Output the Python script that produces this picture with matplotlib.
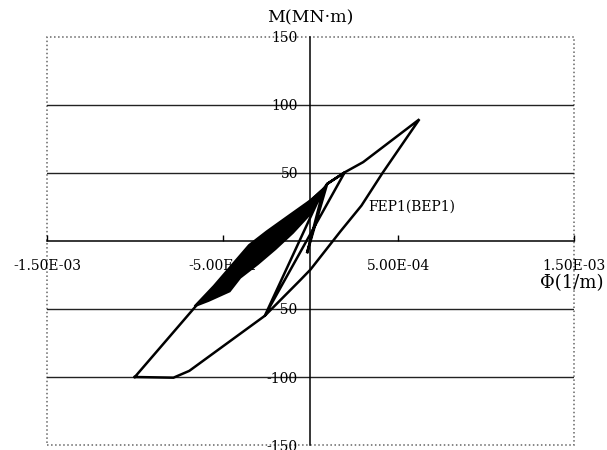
import matplotlib
matplotlib.use("Agg")
import matplotlib.pyplot as plt
from matplotlib.patches import Rectangle
from matplotlib.ticker import FuncFormatter

# 曲率 Φ (1/m) - 曲げモーメント M (MN・m) 履歴
phi_path = [-1.00e-3, -0.86e-3, -0.64e-3, 0.075e-3, -0.02e-3, 0.095e-3, 0.195e-3,
            -0.26e-3, 0.075e-3, 0.095e-3, 0.195e-3, 0.30e-3, 0.62e-3, 0.41e-3,
            0.29e-3, 0.17e-3, 0.0, -0.06e-3, -0.26e-3, -0.69e-3, -0.78e-3, -1.00e-3]
m_path = [-100, -79, -46, 38.5, -9, 42, 50.5,
          -55, 38.5, 42, 50.5, 58, 89.5, 50,
          26, 7, -21, -29, -55, -95.5, -100.5, -100]

# 小振幅ループが重なって黒く塗りつぶされた帯
band_upper_phi = [-0.66e-3, -0.55e-3, -0.45e-3, -0.35e-3, -0.25e-3, -0.12e-3, 0.0, 0.075e-3]
band_upper_m = [-48, -33, -18, -3, 7, 19, 30, 38.5]
band_lower_phi = [0.075e-3, 0.0, -0.10e-3, -0.20e-3, -0.30e-3, -0.40e-3, -0.46e-3, -0.58e-3, -0.66e-3]
band_lower_m = [38.5, 20, 6, -6, -17, -27, -37, -44, -48]

x_ticks = [-1.5e-3, -5e-4, 5e-4, 1.5e-3]
y_ticks = [-150, -100, -50, 50, 100, 150]
grid_y = [-100, -50, 50, 100]

serif = ["DejaVu Serif"]

fig = plt.figure(figsize=(6.07, 4.5), dpi=100)
ax = fig.add_axes([0.0774, 0.0111, 0.8682, 0.9067])
ax.set_xlim(-1.5e-3, 1.5e-3)
ax.set_ylim(-150, 150)

# 外枠（点線）
for s in ["top", "right"]:
    ax.spines[s].set_visible(False)
ax.add_patch(Rectangle((0, 0), 1, 1, transform=ax.transAxes, fill=False,
                       edgecolor="#666666", linestyle=":", linewidth=1.1, clip_on=False))

# 軸を原点に
ax.spines["left"].set_position(("data", 0))
ax.spines["bottom"].set_position(("data", 0))
ax.spines["left"].set_linewidth(1.1)
ax.spines["bottom"].set_linewidth(1.1)

for v in grid_y:
    ax.axhline(v, color="#222222", linewidth=1.0, zorder=1)

ax.set_xticks(x_ticks)
ax.xaxis.set_major_formatter(FuncFormatter(lambda v, p: f"{v:.2E}"))
ax.set_yticks(y_ticks)
ax.yaxis.set_major_formatter(FuncFormatter(lambda v, p: f"{int(v)}"))
ax.tick_params(axis="x", direction="in", length=4, width=1, pad=13, labelsize=10)
ax.tick_params(axis="y", length=0, pad=9, labelsize=10)
for lab in ax.get_xticklabels() + ax.get_yticklabels():
    lab.set_family(serif)

ax.fill(band_upper_phi + band_lower_phi, band_upper_m + band_lower_m,
        color="black", linewidth=1.5, edgecolor="black", zorder=3)
ax.plot(phi_path, m_path, color="black", linewidth=1.8, solid_joinstyle="miter", zorder=3)

ax.text(0.33e-3, 25, "FEP1(BEP1)", family=serif, fontsize=10, va="center", ha="left")

ax.set_xlabel("Φ(1/m)", family=serif, fontsize=13)
ax.xaxis.set_label_coords(0.996, 0.418)
ax.set_ylabel("M(MN·m)", family=serif, fontsize=12.5, rotation=0, ha="center", va="center")
ax.yaxis.set_label_coords(0.5, 1.046)

fig.savefig("out.png", dpi=100)
